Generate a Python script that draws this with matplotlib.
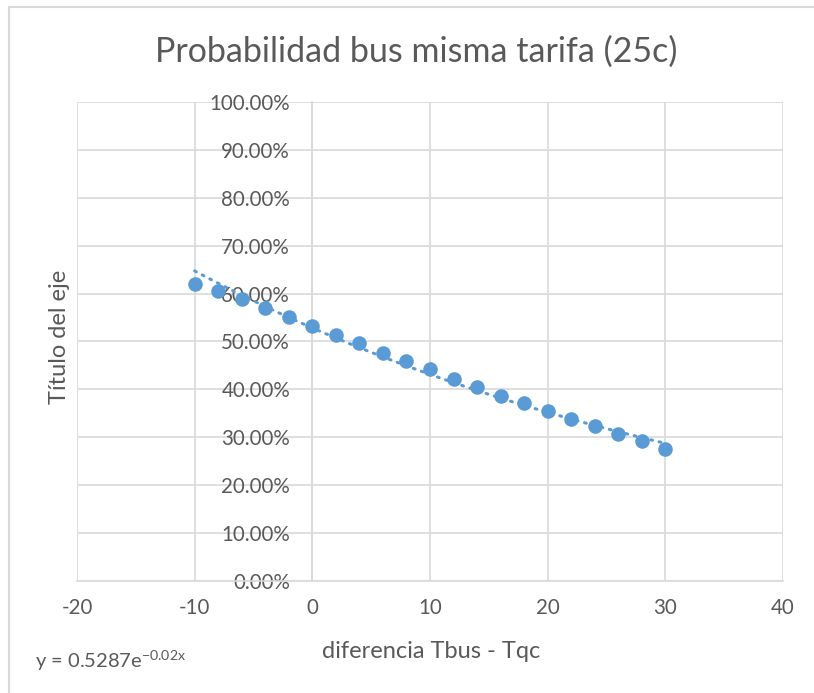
import numpy as np
import matplotlib.pyplot as plt
from matplotlib.lines import Line2D
from matplotlib.ticker import FuncFormatter, MultipleLocator

# data
diff = [-10, -8, -6, -4, -2, 0, 2, 4, 6, 8, 10, 12, 14, 16, 18, 20, 22, 24, 26, 28, 30]
prob = [0.620, 0.606, 0.588, 0.569, 0.551, 0.532, 0.514, 0.497, 0.477, 0.460, 0.442,
        0.422, 0.405, 0.387, 0.371, 0.354, 0.338, 0.323, 0.307, 0.292, 0.276]

title = 'Probabilidad bus misma tarifa (25c)'
xlabel = 'diferencia Tbus - Tqc'
ylabel = 'Título del eje'
eq_label = 'y = 0.5287e$^{\\mathrm{-0.02x}}$'

blue = '#5B9BD5'
grey_txt = '#595959'
grid_c = '#D9D9D9'

plt.rcParams['font.family'] = ['Lato', 'DejaVu Sans']
plt.rcParams['axes.unicode_minus'] = False
plt.rcParams['mathtext.fontset'] = 'custom'
plt.rcParams['mathtext.rm'] = 'Lato'
plt.rcParams['mathtext.it'] = 'Lato'

fig = plt.figure(figsize=(8.14, 6.93), dpi=100)
ax = fig.add_axes([77 / 814, 1 - 581 / 693, (783 - 77) / 814, (581 - 102) / 693])

# exponential trendline fitted like Excel does (least squares on log y)
b, ln_a = np.polyfit(diff, np.log(prob), 1)
xt = np.linspace(min(diff), max(diff), 200)
ax.plot(xt, np.exp(ln_a) * np.exp(b * xt), color=blue, lw=2.2, ls=(0, (0.6, 2.2)),
        dash_capstyle='round', zorder=3)
ax.scatter(diff, prob, s=110, color=blue, zorder=4, linewidths=0)

ax.set_xlim(-20, 40)
ax.set_ylim(0, 1)
ax.xaxis.set_major_locator(MultipleLocator(10))
ax.yaxis.set_major_locator(MultipleLocator(0.1))
ax.yaxis.set_major_formatter(FuncFormatter(lambda v, p: f'{v * 100:.2f}%'))
ax.grid(True, color=grid_c, lw=1.2)
ax.set_axisbelow(True)

for s in ['top', 'right']:
    ax.spines[s].set_visible(False)
ax.spines['left'].set_position(('data', 0))
ax.spines['left'].set_color(grid_c)
ax.spines['bottom'].set_color(grid_c)
ax.spines['left'].set_linewidth(1.2)
ax.spines['bottom'].set_linewidth(1.2)
ax.tick_params(axis='both', length=0, labelsize=14.8, labelcolor=grey_txt)
ax.tick_params(axis='y', pad=16)
ax.tick_params(axis='x', pad=12)
for lbl in ax.get_yticklabels():
    lbl.set_zorder(5)

fig.text(416 / 814, 1 - 52 / 693, title, ha='center', va='center',
         fontsize=24.5, color=grey_txt)
fig.text(431 / 814, 1 - 652 / 693, xlabel, ha='center', va='center', fontsize=17, color=grey_txt)
fig.text(59 / 814, 1 - 337 / 693, ylabel, ha='center', va='center', rotation=90,
         fontsize=17, color=grey_txt)
fig.text(35 / 814, 1 - 661 / 693, eq_label, ha='left', va='center', fontsize=14.5, color=grey_txt)

# chart frame edges (left and top)
fig.add_artist(Line2D([9 / 814, 9 / 814], [0, 1 - 7 / 693], color='#D9D9D9', lw=1.5,
                      transform=fig.transFigure))
fig.add_artist(Line2D([9 / 814, 1], [1 - 7 / 693, 1 - 7 / 693], color='#D9D9D9', lw=1.5,
                      transform=fig.transFigure))

fig.savefig('out.png', dpi=100)
